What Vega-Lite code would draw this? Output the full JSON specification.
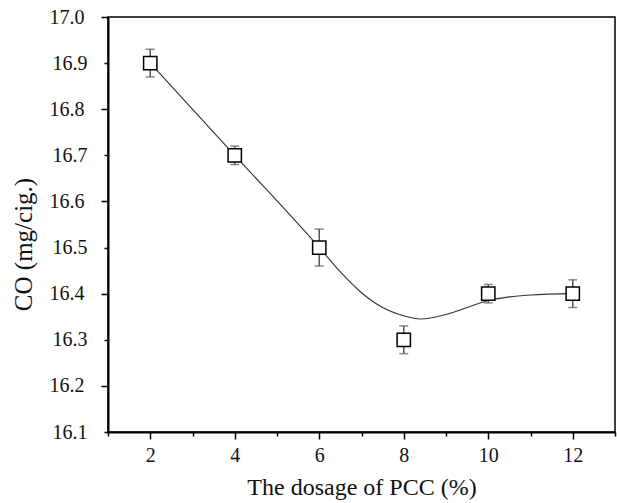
{
  "$schema": "https://vega.github.io/schema/vega-lite/v6.json",
  "width": 507,
  "height": 415,
  "autosize": "none",
  "padding": {"left": 108, "top": 17, "right": 2, "bottom": 71},
  "background": "white",
  "config": {
    "view": {"stroke": "#000", "strokeWidth": 1.5},
    "font": "Liberation Serif",
    "axis": {
      "domainColor": "#000",
      "domainWidth": 2,
      "tickColor": "#000",
      "tickWidth": 1.5,
      "labelFont": "Liberation Serif",
      "titleFont": "Liberation Serif",
      "labelColor": "#111",
      "titleColor": "#111",
      "labelFontSize": 20,
      "titleFontSize": 22,
      "titleFontWeight": "normal",
      "grid": false
    }
  },
  "datasets": {
    "pts": [
      {"dosage": 2, "co": 16.9, "lo": 16.87, "hi": 16.93},
      {"dosage": 4, "co": 16.7, "lo": 16.68, "hi": 16.72},
      {"dosage": 6, "co": 16.5, "lo": 16.46, "hi": 16.54},
      {"dosage": 8, "co": 16.3, "lo": 16.27, "hi": 16.33},
      {"dosage": 10, "co": 16.4, "lo": 16.38, "hi": 16.42},
      {"dosage": 12, "co": 16.4, "lo": 16.37, "hi": 16.43}
    ],
    "curve": [
      {"dosage": 2, "co": 16.9},
      {"dosage": 4, "co": 16.7},
      {"dosage": 6, "co": 16.5},
      {"dosage": 6.5, "co": 16.447},
      {"dosage": 7, "co": 16.402},
      {"dosage": 7.5, "co": 16.37},
      {"dosage": 8, "co": 16.352},
      {"dosage": 8.4, "co": 16.345},
      {"dosage": 9, "co": 16.355},
      {"dosage": 9.5, "co": 16.37},
      {"dosage": 10, "co": 16.385},
      {"dosage": 10.5, "co": 16.393},
      {"dosage": 11, "co": 16.397},
      {"dosage": 12, "co": 16.4}
    ]
  },
  "encoding": {
    "x": {
      "field": "dosage",
      "type": "quantitative",
      "scale": {"domain": [1, 13], "nice": false, "zero": false},
      "axis": {
        "title": "The dosage of PCC (%)",
        "values": [1, 2, 3, 4, 5, 6, 7, 8, 9, 10, 11, 12, 13],
        "labelExpr": "datum.value % 2 == 0 ? datum.label : ''",
        "tickSize": {"condition": {"test": "datum.value % 2 == 0", "value": 7}, "value": 4},
        "labelPadding": 6,
        "titlePadding": 10,
        "titleFontSize": 24
      }
    },
    "y": {
      "field": "co",
      "type": "quantitative",
      "scale": {"domain": [16.1, 17.0], "nice": false, "zero": false},
      "axis": {
        "title": "CO (mg/cig.)",
        "values": [16.1, 16.2, 16.3, 16.4, 16.5, 16.6, 16.7, 16.8, 16.9, 17.0],
        "format": ".1f",
        "tickSize": {"condition": {"test": "round(datum.value * 10) % 2 == 0", "value": 7}, "value": 4},
        "labelPadding": 17,
        "titleX": -72,
        "titleY": 227,
        "titleFontSize": 25
      }
    }
  },
  "layer": [
    {
      "data": {"name": "curve"},
      "mark": {"type": "line", "interpolate": "monotone", "stroke": "#333", "strokeWidth": 1.1}
    },
    {
      "data": {"name": "pts"},
      "mark": {"type": "rule", "stroke": "#555", "strokeWidth": 1.5},
      "encoding": {"y": {"field": "lo", "type": "quantitative"}, "y2": {"field": "hi"}}
    },
    {
      "data": {"name": "pts"},
      "mark": {"type": "tick", "orient": "horizontal", "size": 9, "thickness": 1.5, "color": "#555"},
      "encoding": {"y": {"field": "lo", "type": "quantitative"}}
    },
    {
      "data": {"name": "pts"},
      "mark": {"type": "tick", "orient": "horizontal", "size": 9, "thickness": 1.5, "color": "#555"},
      "encoding": {"y": {"field": "hi", "type": "quantitative"}}
    },
    {
      "data": {"name": "pts"},
      "mark": {"type": "point", "shape": "square", "size": 177, "filled": true, "fill": "white", "stroke": "#000", "strokeWidth": 1.5, "opacity": 1}
    }
  ]
}
